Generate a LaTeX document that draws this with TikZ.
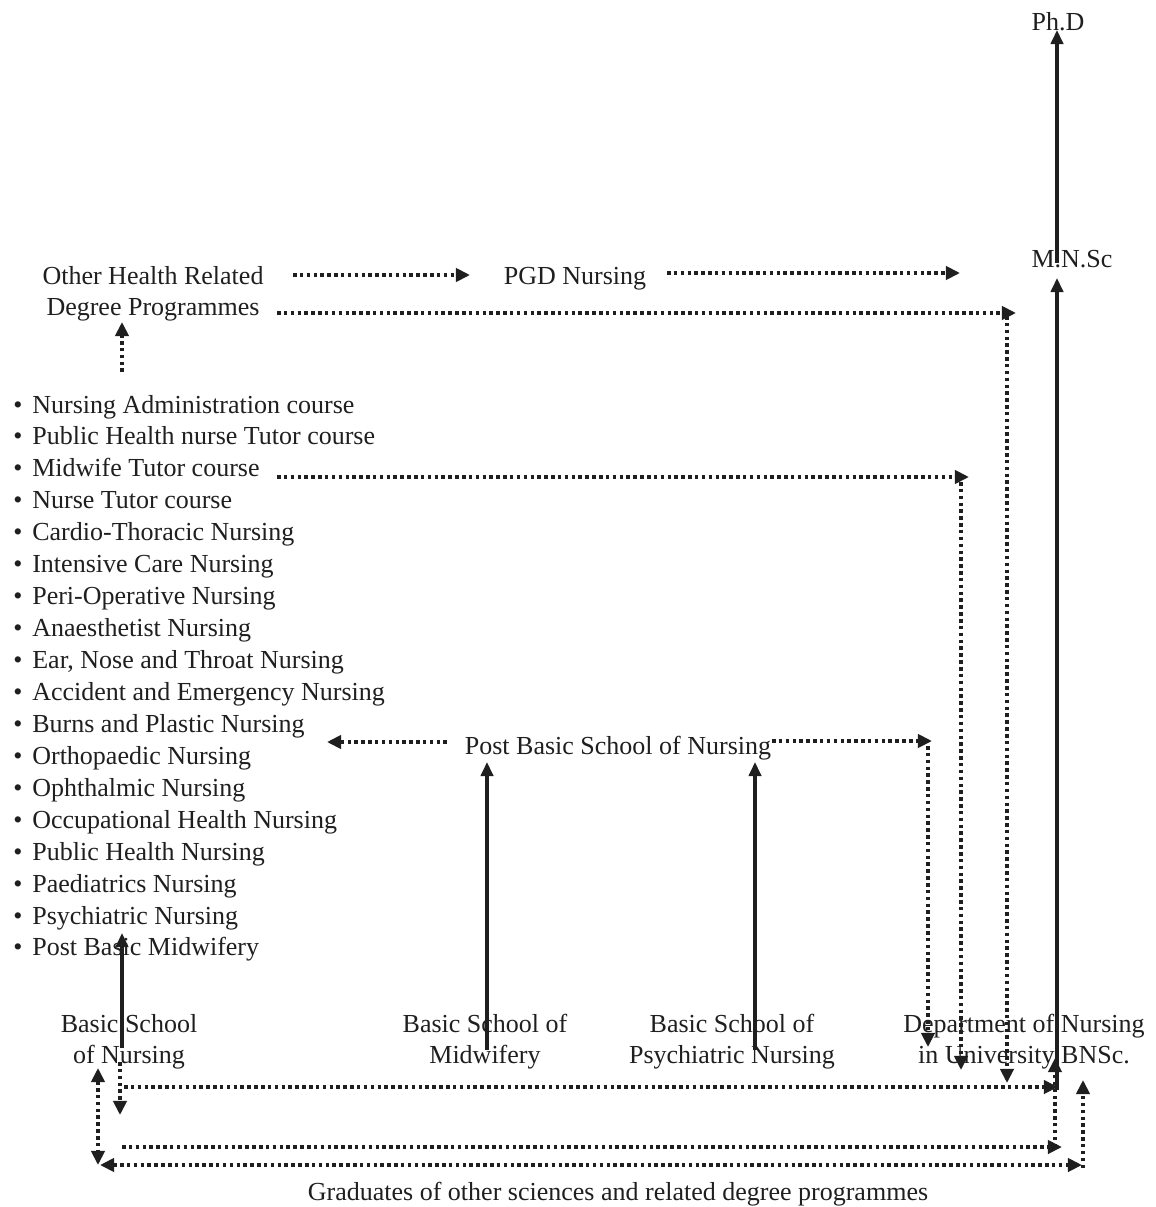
\documentclass[tikz,border=0pt]{standalone}
\usepackage{fontspec}
\setmainfont{Liberation Serif}
\usetikzlibrary{arrows.meta}

\begin{document}
\begin{tikzpicture}[
  x=0.02cm, y=-0.02cm,
  every node/.style={inner sep=0pt, align=center, text=black!88, font=\fontsize{14.8pt}{17.6pt}\selectfont},
  solidarr/.style={line width=1.8pt, black!88, -{Triangle[length=8pt,width=7pt]}},
  dotline/.style={line width=2pt, black!88, dash pattern=on 2pt off 1.9pt},
  dotarr/.style={dotline, -{Triangle[length=8pt,width=7.5pt]}},
  dotboth/.style={dotline, {Triangle[length=8pt,width=7.5pt]}-{Triangle[length=8pt,width=7.5pt]}}
]
  \useasboundingbox (0,0) rectangle (1156,1207);

  \node (phd)   at (1058, 22)   {Ph.D};
  \node (mnsc)  at (1072, 259)  {M.N.Sc};
  \node (other) at (153, 294)   {Other Health Related\\Degree Programmes};
  \node (pgd)   at (575, 279)   {PGD Nursing};
  \node (pbsn)  at (618, 748)   {Post Basic School of Nursing};
  \node (bsn)   at (129, 1042)  {Basic School\\of Nursing};
  \node (bsm)   at (485, 1042)  {Basic School of\\Midwifery};
  \node (bspn)  at (732, 1042)  {Basic School of\\Psychiatric Nursing};
  \node (dept)  at (1024, 1042) {Department of Nursing\\in University BNSc.};
  \node (grad)  at (618, 1194)  {Graduates of other sciences and related degree programmes};

  % post basic courses
  \foreach \txt [count=\i] in {Nursing Administration course, Public Health nurse Tutor course,
      Midwife Tutor course, Nurse Tutor course, Cardio-Thoracic Nursing, Intensive Care Nursing,
      Peri-Operative Nursing, Anaesthetist Nursing, {Ear, Nose and Throat Nursing},
      Accident and Emergency Nursing, Burns and Plastic Nursing, Orthopaedic Nursing,
      Ophthalmic Nursing, Occupational Health Nursing, Public Health Nursing,
      Paediatrics Nursing, Psychiatric Nursing, Post Basic Midwifery}
    \node[anchor=base west] (l\i) at (13, {413+31.94*(\i-1)}) {\textbullet\hspace{0.38em}\txt};

  % end points of the connectors
  \coordinate (phd-in)    at (1057, 30);
  \coordinate (mnsc-out)  at (1057, 263);
  \coordinate (mnsc-in)   at (1057, 278);
  \coordinate (mnsc-left) at (960, 273);
  \coordinate (dept-up)   at (1057, 1090);
  \coordinate (list-in)   at (122, 933);
  \coordinate (list-top)  at (122, 372);
  \coordinate (list-mid)  at (277, 477);
  \coordinate (list-right) at (327, 742);
  \coordinate (bsn-up)    at (122, 1048);
  \coordinate (pbsn-a)    at (487, 762);
  \coordinate (bsm-up)    at (487, 1050);
  \coordinate (pbsn-b)    at (755, 762);
  \coordinate (bspn-up)   at (755, 1050);
  \coordinate (pbsn-left) at (447, 742);
  \coordinate (pbsn-right) at (772, 741);
  \coordinate (other-in)  at (122, 322);
  \coordinate (other-r1)  at (293, 275);
  \coordinate (other-r2)  at (277, 313);
  \coordinate (pgd-left)  at (470, 275);
  \coordinate (pgd-right) at (667, 273);
  \coordinate (k1) at (1016, 313);
  \coordinate (k2) at (969, 477);
  \coordinate (k3) at (932, 741);

  \draw[solidarr] (mnsc-out) -- (phd-in);
  \draw[solidarr] (dept-up) -- (mnsc-in);
  \draw[solidarr] (bsn-up) -- (list-in);
  \draw[solidarr] (bsm-up) -- (pbsn-a);
  \draw[solidarr] (bspn-up) -- (pbsn-b);

  \draw[dotarr] (list-top) -- (other-in);
  \draw[dotarr] (other-r1) -- (pgd-left);
  \draw[dotarr] (pgd-right) -- (mnsc-left);
  \draw[dotarr] (other-r2) -- (k1);
  \draw[dotarr] (1007,316) -- (1007,1083);
  \draw[dotarr] (list-mid) -- (k2);
  \draw[dotarr] (961,482) -- (961,1070);
  \draw[dotarr] (pbsn-left) -- (list-right);
  \draw[dotarr] (pbsn-right) -- (k3);
  \draw[dotarr] (928,746) -- (928,1047);

  % bottom
  \draw[dotarr] (120,1062) -- (120,1115);
  \draw[dotarr] (124,1087) -- (1058,1087);
  \draw[dotarr] (122,1147) -- (1062,1147);
  \draw[dotarr] (1055,1147) -- (1055,1058);
  \draw[dotboth] (98,1068) -- (98,1165);
  \draw[dotboth] (100,1165) -- (1082,1165);
  \draw[dotarr] (1083,1168) -- (1083,1080);
\end{tikzpicture}
\end{document}
